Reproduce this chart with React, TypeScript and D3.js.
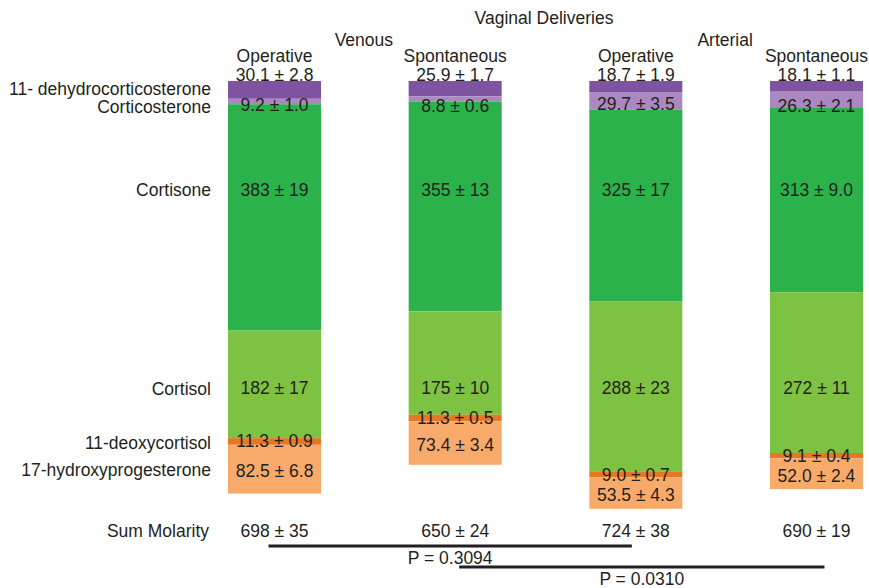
import * as d3 from 'd3';

// steroid fractions, top of the stack first
const steroids = [
  '11- dehydrocorticosterone',
  'Corticosterone',
  'Cortisone',
  'Cortisol',
  '11-deoxycortisol',
  '17-hydroxyprogesterone',
];
const columns = ['Venous Operative', 'Venous Spontaneous', 'Arterial Operative', 'Arterial Spontaneous'];
const columnTitles = ['Operative', 'Spontaneous', 'Operative', 'Spontaneous'];
const sites = ['Venous', 'Arterial'];

// mean values (nmol/L) per column, in steroid order
const venousOperative = [30.1, 9.2, 383, 182, 11.3, 82.5];
const venousSpontaneous = [25.9, 8.8, 355, 175, 11.3, 73.4];
const arterialOperative = [18.7, 29.7, 325, 288, 9.0, 53.5];
const arterialSpontaneous = [18.1, 26.3, 313, 272, 9.1, 52.0];
const venousOperativeSem = ['2.8', '1.0', '19', '17', '0.9', '6.8'];
const venousSpontaneousSem = ['1.7', '0.6', '13', '10', '0.5', '3.4'];
const arterialOperativeSem = ['1.9', '3.5', '17', '23', '0.7', '4.3'];
const arterialSpontaneousSem = ['1.1', '2.1', '9.0', '11', '0.4', '2.4'];

const sumMean = [698, 650, 724, 690];
const sumSem = [35, 24, 38, 19];
const comparisons = [[0, 2], [1, 3]];
const pValues = ['0.3094', '0.0310'];

const colors = ['#7e53a0', '#ab88c1', '#2cb24a', '#7dc242', '#e57727', '#f8aa6b'];

const W = 869;
const H = 588;
const ink = '#231f20';
const font = '"Liberation Sans", Arial, Helvetica, sans-serif';

const fmt = (v: number, i: number) => {
  // cortisone / cortisol shown as integers, others with one decimal
  if (i === 2 || i === 3) return String(Math.round(v));
  return v.toFixed(1);
};

export default function App() {
  const means = [venousOperative, venousSpontaneous, arterialOperative, arterialSpontaneous];
  const sems = [venousOperativeSem, venousSpontaneousSem, arterialOperativeSem, arterialSpontaneousSem];

  const x = d3.scaleBand<string>().domain(columns).range([228, 863]).paddingInner(0.485).paddingOuter(0);
  const y = d3.scaleLinear().domain([0, 760]).range([81, 81 + 760 * 0.591]);

  const table = columns.map((c, ci) => {
    const row: any = { column: c };
    steroids.forEach((s, si) => (row[s] = means[ci][si]));
    return row;
  });
  const series = d3.stack<any>().keys(steroids)(table);

  const bw = x.bandwidth();
  const cx = (ci: number) => (x(columns[ci]) as number) + bw / 2;

  // fixed label rows for the big fractions, segment centred for small ones
  const rowY = [75, 106, 190, 388];
  const leftY = [89, 107, 190, 389, 443, 470];

  const labelY = (si: number, ci: number) => {
    if (si < 4) {
      if (si === 1) {
        const d = series[si][ci];
        const mid = (y(d[0]) + y(d[1])) / 2;
        return Math.max(mid + 3, 103) + (mid < 100 ? 3 : 0);
      }
      return rowY[si];
    }
    const d = series[si][ci];
    const mid = (y(d[0]) + y(d[1])) / 2;
    return si === 4 ? mid : mid + 2;
  };

  const textStyle = { fontFamily: font, fontSize: 17.5, fill: ink } as const;

  return (
    <svg width={W} height={H} style={{ position: 'absolute', left: 0, top: 0, background: '#fff' }}>
      {series.map((s, si) =>
        s.map((d, ci) => (
          <rect
            key={`${si}-${ci}`}
            x={x(columns[ci])}
            y={y(d[0])}
            width={bw}
            height={y(d[1]) - y(d[0])}
            fill={colors[si]}
          />
        ))
      )}

      <text x={544} y={18} textAnchor="middle" dominantBaseline="central" style={textStyle}>
        Vaginal Deliveries
      </text>
      {sites.map((s, i) => (
        <text
          key={s}
          x={(cx(i * 2) + cx(i * 2 + 1)) / 2 - 1}
          y={40}
          textAnchor="middle"
          dominantBaseline="central"
          style={textStyle}
        >
          {s}
        </text>
      ))}
      {columnTitles.map((t, ci) => (
        <text key={ci} x={cx(ci)} y={56} textAnchor="middle" dominantBaseline="central" style={textStyle}>
          {t}
        </text>
      ))}

      {steroids.map((s, si) => (
        <text key={s} x={211} y={leftY[si]} textAnchor="end" dominantBaseline="central" style={textStyle}>
          {s}
        </text>
      ))}

      {steroids.map((s, si) =>
        columns.map((c, ci) => (
          <text
            key={`${s}-${c}`}
            x={cx(ci)}
            y={labelY(si, ci)}
            textAnchor="middle"
            dominantBaseline="central"
            style={textStyle}
          >
            {`${fmt(means[ci][si], si)} ± ${sems[ci][si]}`}
          </text>
        ))
      )}

      <text x={209} y={531} textAnchor="end" dominantBaseline="central" style={textStyle}>
        Sum Molarity
      </text>
      {columns.map((c, ci) => (
        <text key={c} x={cx(ci)} y={531} textAnchor="middle" dominantBaseline="central" style={textStyle}>
          {`${sumMean[ci]} ± ${sumSem[ci]}`}
        </text>
      ))}

      {comparisons.map(([a, b], i) => {
        const ly = 546 + i * 21;
        const x1 = cx(a) - 6 + i * 10;
        const x2 = cx(b) - 4 + i * 12;
        return (
          <g key={i}>
            <line x1={x1} x2={x2} y1={ly} y2={ly} stroke={ink} strokeWidth={3} />
            <text
              x={(x1 + x2) / 2}
              y={ly + 11.5}
              textAnchor="middle"
              dominantBaseline="central"
              style={textStyle}
            >
              {`P = ${pValues[i]}`}
            </text>
          </g>
        );
      })}
    </svg>
  );
}
